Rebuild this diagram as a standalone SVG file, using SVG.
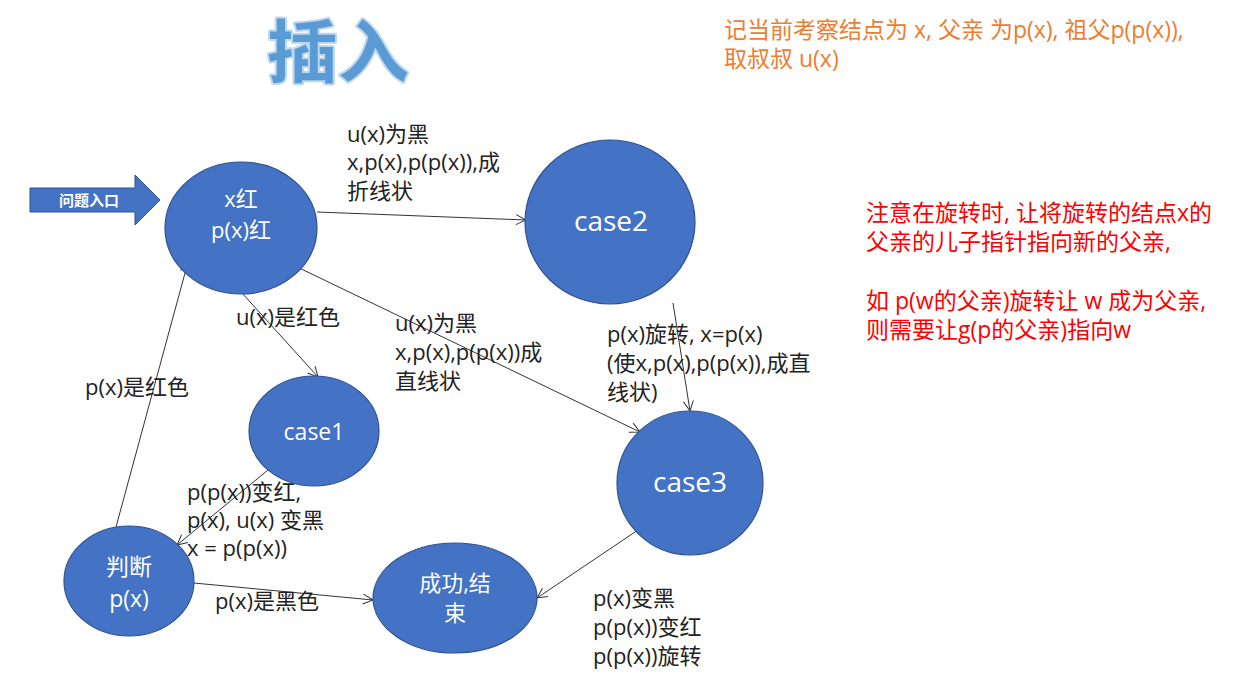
<svg xmlns="http://www.w3.org/2000/svg" width="1240" height="687" viewBox="0 0 1240 687">
<defs>
<style>
.n{fill:#4472C4;stroke:#2F528F;stroke-width:1.2}
.nt{fill:#fff;font-family:"Open Sans","Noto Sans CJK SC",sans-serif;text-anchor:middle}
.l{font-family:"Open Sans","Noto Sans CJK SC",sans-serif;font-size:22px;fill:#222}
.c{stroke:#333;stroke-width:1;fill:none;marker-end:url(#ah)}
.o{font-family:"Open Sans","Noto Sans CJK SC",sans-serif;font-size:23px;fill:#ED7D31}
.r{font-family:"Open Sans","Noto Sans CJK SC",sans-serif;font-size:23px;fill:#FF0000}
</style>
<marker id="ah" viewBox="0 0 12 12" refX="11" refY="6" markerWidth="12" markerHeight="12" markerUnits="userSpaceOnUse" orient="auto"><path d="M1,1 L11,6 L1,11" fill="none" stroke="#333" stroke-width="1"/></marker>
</defs>
<rect width="1240" height="687" fill="#fff"/>
<g id="title">
<text x="338" y="77" text-anchor="middle" font-family="Noto Sans CJK SC,sans-serif" font-size="68" font-weight="bold" fill="#5B9BD5" stroke="#BDD7EE" stroke-width="4" paint-order="stroke" stroke-linejoin="round" textLength="142" lengthAdjust="spacingAndGlyphs">插入</text>
</g>
<g id="note-orange">
<text class="o" x="724" y="38">记当前考察结点为 x, 父亲 为p(x), 祖父p(p(x)),</text>
<text class="o" x="724" y="67">取叔叔 u(x)</text>
</g>
<g id="note-red">
<text class="r" x="866" y="221">注意在旋转时, 让将旋转的结点x的</text>
<text class="r" x="866" y="250">父亲的儿子指针指向新的父亲,</text>
<text class="r" x="866" y="309">如 p(w的父亲)旋转让 w 成为父亲,</text>
<text class="r" x="866" y="338">则需要让g(p的父亲)指向w</text>
</g>
<g id="entry">
<path d="M30,188 L135,188 L135,175 L160,200 L135,225 L135,212 L30,212 Z" fill="#4472C4" stroke="#2F528F" stroke-width="1"/>
<text x="89" y="206" fill="#fff" font-family="Noto Sans CJK SC,sans-serif" font-size="15" font-weight="bold" text-anchor="middle">问题入口</text>
</g>
<g id="connectors">
<line class="c" x1="317" y1="212" x2="526" y2="220"/>
<line class="c" x1="242" y1="293" x2="318" y2="377"/>
<line class="c" x1="293" y1="265" x2="640" y2="432"/>
<line class="c" x1="673" y1="303" x2="690" y2="411"/>
<line class="c" x1="268" y1="470" x2="177" y2="545"/>
<line class="c" x1="116" y1="527" x2="188" y2="262"/>
<line class="c" x1="194" y1="583" x2="373" y2="600"/>
<line class="c" x1="638" y1="530" x2="537" y2="598"/>
</g>
<g id="labels">
<text class="l" x="347" y="142">u(x)为黑</text>
<text class="l" x="347" y="170">x,p(x),p(p(x)),成</text>
<text class="l" x="347" y="199">折线状</text>
<text class="l" x="236" y="325">u(x)是红色</text>
<text class="l" x="395" y="331">u(x)为黑</text>
<text class="l" x="395" y="360">x,p(x),p(p(x))成</text>
<text class="l" x="395" y="389">直线状</text>
<text class="l" x="85" y="395">p(x)是红色</text>
<text class="l" x="607" y="342">p(x)旋转, x=p(x)</text>
<text class="l" x="607" y="371">(使x,p(x),p(p(x)),成直</text>
<text class="l" x="607" y="400">线状)</text>
<text class="l" x="187" y="500">p(p(x))变红,</text>
<text class="l" x="187" y="528">p(x), u(x) 变黑</text>
<text class="l" x="187" y="556">x = p(p(x))</text>
<text class="l" x="215" y="609">p(x)是黑色</text>
<text class="l" x="593" y="606">p(x)变黑</text>
<text class="l" x="593" y="635">p(p(x))变红</text>
<text class="l" x="593" y="664">p(p(x))旋转</text>
</g>
<g id="nodeA">
<ellipse class="n" cx="241" cy="228" rx="76" ry="66"/>
<text class="nt" x="241" y="207" font-size="22">x红</text>
<text class="nt" x="241" y="238" font-size="22">p(x)红</text>
</g>
<g id="case2">
<ellipse class="n" cx="610" cy="222" rx="85" ry="82"/>
<text class="nt" x="611" y="231" font-size="28">case2</text>
</g>
<g id="case1">
<ellipse class="n" cx="314" cy="431" rx="65" ry="55"/>
<text class="nt" x="314" y="440" font-size="23">case1</text>
</g>
<g id="case3">
<ellipse class="n" cx="690" cy="483" rx="73" ry="72"/>
<text class="nt" x="690" y="492" font-size="28">case3</text>
</g>
<g id="judge">
<ellipse class="n" cx="129" cy="581" rx="65" ry="55"/>
<text class="nt" x="129" y="575" font-size="23">判断</text>
<text class="nt" x="129" y="607" font-size="23">p(x)</text>
</g>
<g id="done">
<ellipse class="n" cx="455" cy="598" rx="82" ry="55"/>
<text class="nt" x="455" y="591" font-size="22">成功,结</text>
<text class="nt" x="455" y="621" font-size="22">束</text>
</g>
</svg>
